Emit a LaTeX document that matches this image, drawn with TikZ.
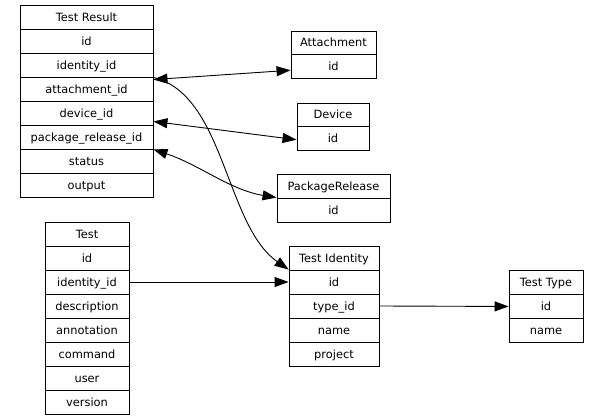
\documentclass[tikz,border=0pt]{standalone}
\usepackage{fontspec}
\setmainfont{DejaVu Sans}
\usetikzlibrary{arrows.meta}
\tikzset{
  rowbox/.style={draw, line width=0.9pt, rectangle, inner sep=0pt, text height=10pt, text depth=1.8pt, font=\fontsize{11.4}{13}\selectfont},
  link/.style={line width=0.9pt, -{Triangle[length=14pt,width=10pt]}},
  blink/.style={line width=0.9pt, {Triangle[length=14pt,width=10pt]}-{Triangle[length=14pt,width=10pt]}}
}
\newcommand{\mkrecord}[6]{%
  \foreach \t [count=\i] in {#6}{%
    \node[rowbox, minimum width=#4pt, minimum height=#5pt] (#1\i) at ({#2+#4/2}, {#3+(\i-0.5)*#5}) {\t};
  }%
}
\begin{document}
\begin{tikzpicture}[x=1pt,y=-1pt]
\useasboundingbox (0,0) rectangle (595,420);
\mkrecord{tr}{20}{5}{133}{24}{Test Result,id,identity\_id,attachment\_id,device\_id,package\_release\_id,status,output}
\mkrecord{att}{291}{31}{85}{23.5}{Attachment,id}
\mkrecord{dev}{297}{103}{72}{23.5}{Device,id}
\mkrecord{pr}{277}{174}{113}{24}{PackageRelease,id}
\mkrecord{t}{45}{222}{84}{24}{Test,id,identity\_id,description,annotation,command,user,version}
\mkrecord{ti}{289}{246}{90}{24}{Test Identity,id,type\_id,name,project}
\mkrecord{tt}{509}{270}{74}{24.3}{Test Type,id,name}
\draw[link] (tr3.south east) .. controls (225,95) and (225,225) .. (ti2.north west);
\draw[blink] ([yshift=-3pt]tr4.north east) -- ([yshift=-4pt]att2.west);
\draw[blink] ([yshift=4pt]tr5.south east) -- ([yshift=-1.5pt]dev2.west);
\draw[blink] (tr6.south east) .. controls (200,165) and (230,190) .. (pr2.north west);
\draw[link] (t3.east) -- (ti2.west);
\draw[link] (ti3.east) -- (tt2.west);
\end{tikzpicture}
\end{document}
